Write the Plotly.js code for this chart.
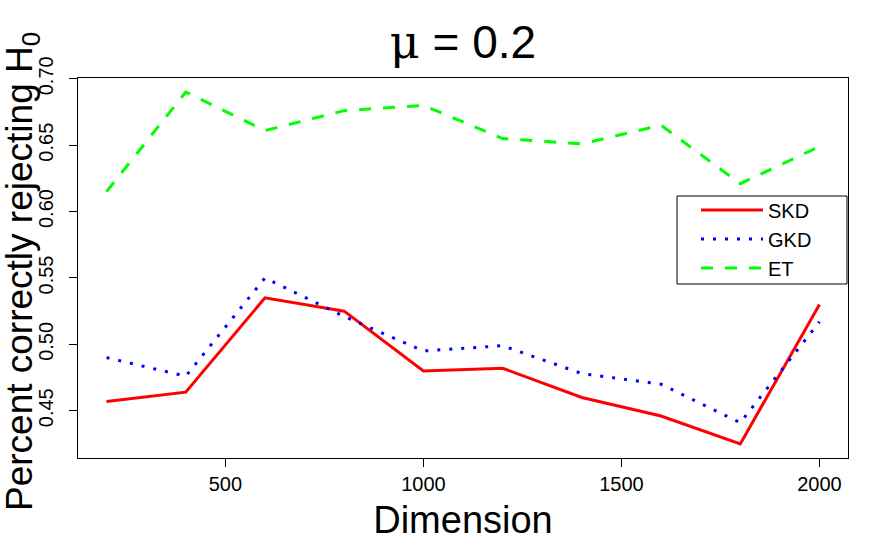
<!DOCTYPE html>
<html>
<head>
<meta charset="utf-8">
<script src="https://cdn.plot.ly/plotly-3.0.1.min.js"></script>
<style>
  body { margin: 0; background: #fff; }
  #chart { width: 888px; height: 556px; }
</style>
</head>
<body>
<div id="chart"></div>
<script>
// values
let dimension = [200, 400, 600, 800, 1000, 1200, 1400, 1600, 1800, 2000]
let skd = [0.457, 0.464, 0.535, 0.525, 0.480, 0.482, 0.460, 0.446, 0.425, 0.530]
let gkd = [0.490, 0.476, 0.550, 0.521, 0.495, 0.499, 0.478, 0.470, 0.441, 0.517]
let et = [0.615, 0.690, 0.661, 0.676, 0.680, 0.655, 0.651, 0.665, 0.621, 0.649]
let yTicks = [0.45, 0.50, 0.55, 0.60, 0.65, 0.70]
let yTickText = ["0.45", "0.50", "0.55", "0.60", "0.65", "0.70"]
let xTicks = [500, 1000, 1500, 2000]

let font = "Liberation Sans, Arial, sans-serif"

let traces = [
    { x: dimension, y: skd, name: "SKD", mode: "lines", type: "scatter",
      line: { color: "#ff0000", width: 3 } },
    { x: dimension, y: gkd, name: "GKD", mode: "lines", type: "scatter",
      line: { color: "#0000ff", width: 3, dash: "3px,9px" } },
    { x: dimension, y: et, name: "ET", mode: "lines", type: "scatter",
      line: { color: "#00ff00", width: 3, dash: "12px,12px" } }
]

// R style padding: 4% each side
let xr = [200 - 1800 * 0.04, 2000 + 1800 * 0.04]
let ymin = Math.min(...skd, ...gkd, ...et)
let ymax = Math.max(...skd, ...gkd, ...et)
let yr = [ymin - (ymax - ymin) * 0.04, ymax + (ymax - ymin) * 0.04]

let layout = {
    width: 888,
    height: 556,
    margin: { l: 78, r: 40, t: 78, b: 98 },
    paper_bgcolor: "#fff",
    plot_bgcolor: "#fff",
    font: { family: font, color: "#000" },
    title: {
        text: "<span style='font-family:DejaVu Serif'>μ</span> = 0.2",
        font: { size: 46, color: "#000" },
        x: 463 / 888, xanchor: "center",
        y: 1 - 42 / 556, yanchor: "middle"
    },
    xaxis: {
        range: xr,
        tickvals: xTicks,
        ticks: "outside", ticklen: 8, tickwidth: 1, tickcolor: "#000",
        tickfont: { size: 20 },
        showgrid: false, zeroline: false,
        showline: true, linecolor: "#000", linewidth: 1, mirror: true,
        title: { text: "Dimension", font: { size: 38 }, standoff: 12 }
    },
    yaxis: {
        range: yr,
        tickvals: yTicks,
        ticktext: yTickText,
        tickangle: -90,
        ticks: "outside", ticklen: 8, tickwidth: 1, tickcolor: "#000",
        tickfont: { size: 20 },
        ticklabelstandoff: 8,
        showgrid: false, zeroline: false,
        showline: true, linecolor: "#000", linewidth: 1, mirror: true
    },
    // y title as annotation so it can sit right at the left edge like R does
    annotations: [{
        text: "Percent correctly rejecting H<sub>0</sub>",
        textangle: -90,
        font: { size: 37, color: "#000" },
        xref: "paper", yref: "paper",
        x: -78 / 770, xanchor: "left", xshift: -3,
        y: (458 - 272) / 380, yanchor: "middle",
        showarrow: false
    }],
    showlegend: true,
    legend: {
        x: (696 - 78) / 770, xanchor: "left",
        y: (458 - 239) / 380, yanchor: "middle",
        bgcolor: "rgba(0,0,0,0)",
        borderwidth: 0,
        font: { size: 20 },
        itemwidth: 62,
        tracegroupgap: 0
    },
    shapes: [{
        type: "rect", xref: "paper", yref: "paper",
        x0: (677 - 78) / 770, x1: (847 - 78) / 770,
        y0: (458 - 284) / 380, y1: (458 - 196) / 380,
        line: { color: "#000", width: 1 }, fillcolor: "#fff", layer: "below"
    }]
}

Plotly.newPlot("chart", traces, layout, { displayModeBar: false, staticPlot: true })
</script>
</body>
</html>
